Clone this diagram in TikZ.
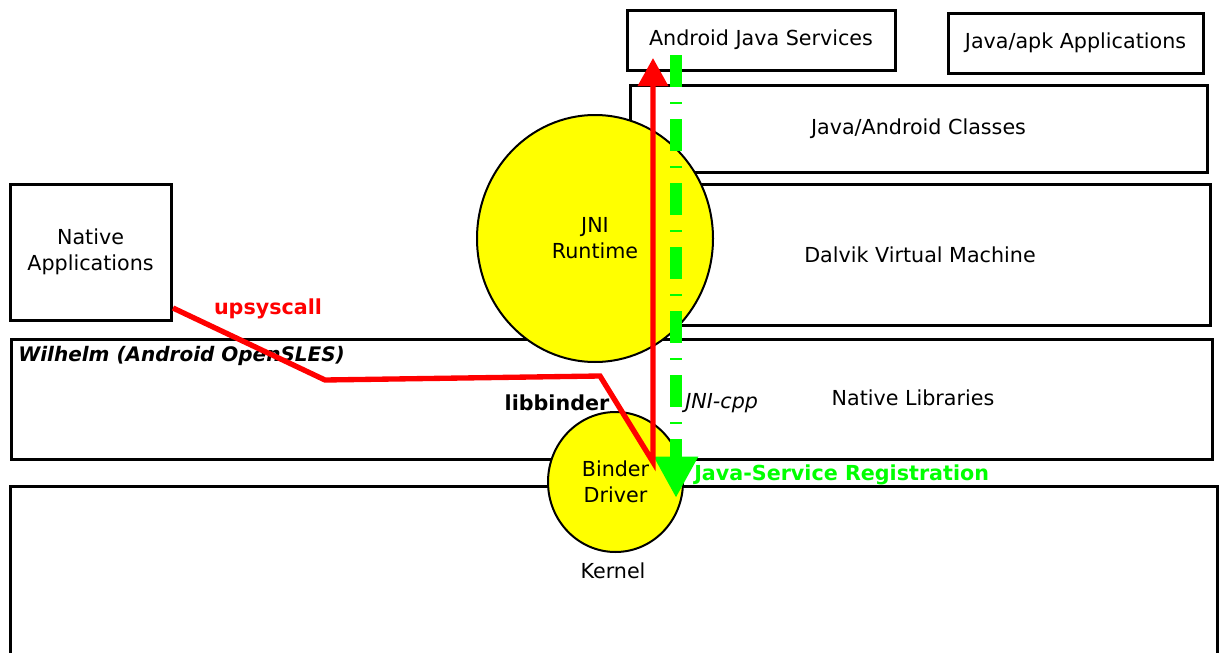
\documentclass[tikz,border=0pt]{standalone}
\usepackage{fontspec}
\setmainfont{DejaVu Sans}
\usetikzlibrary{shapes.geometric,arrows.meta}

\tikzset{
  layer/.style={draw, line width=2.25pt, inner sep=0pt},
  blob/.style={ellipse, draw, line width=1.5pt, fill={rgb,255:red,255;green,255;blue,0}, inner sep=0pt, align=center},
  txt/.style={inner sep=0.75pt, font=\fontsize{15.5}{19.5}\selectfont}
}

\begin{document}
\begin{tikzpicture}[x=0.75pt,y=0.75pt,yscale=-1,xscale=1,every node/.style={font=\fontsize{15.5}{19.5}\selectfont}]
\useasboundingbox (0,0) rectangle (1222,653);
\clip (0,0) rectangle (1222,653);

%Shape: Rectangle [id:jsvc]
\node[layer, minimum width=268*0.75pt, minimum height=60*0.75pt] (jsvc) at (761,40) {Android Java Services};
%Shape: Rectangle [id:japk]
\node[layer, minimum width=255*0.75pt, minimum height=60*0.75pt] (japk) at (1075.5,43) {Java/apk Applications};
%Shape: Rectangle [id:jclass]
\node[layer, minimum width=577*0.75pt, minimum height=87*0.75pt] (jclass) at (918.5,128.5) {Java/Android Classes};
%Shape: Rectangle [id:dalvik]
\node[layer, minimum width=580*0.75pt, minimum height=141*0.75pt] (dalvik) at (920,254.5) {Dalvik Virtual Machine};
%Shape: Rectangle [id:napps]
\node[layer, minimum width=161*0.75pt, minimum height=136*0.75pt, align=center] (napps) at (90.5,252) {Native\\Applications};
%Shape: Rectangle [id:natlib]
\node[layer, minimum width=1201*0.75pt, minimum height=120*0.75pt] (natlib) at (611.5,399) {};
%Shape: Rectangle [id:kernel]
\node[layer, minimum width=1207*0.75pt, minimum height=214*0.75pt] (kernel) at (613.5,593) {};

%Shape: Ellipse [id:jni]
\node[blob, minimum width=236*0.75pt, minimum height=247*0.75pt] (jni) at (595,238.5) {JNI\\Runtime};
%Shape: Ellipse [id:binder]
\node[blob, minimum width=135*0.75pt, minimum height=140*0.75pt] (binder) at (615.5,482) {Binder\\Driver};

% Text Node
\node[txt] (natlbl) at (913,398) {Native Libraries};
% Text Node
\node[txt] (kernlbl) at (613,571) {Kernel};
% Text Node
\node[txt, anchor=west, font=\fontsize{15}{18}\selectfont] (wilhelm) at (17,356) {\bfseries\itshape Wilhelm (Android OpenSLES)};
% Text Node
\node[txt] (libbinder) at (557,403) {\bfseries libbinder};
% Text Node
\node[txt, anchor=west] (jnicpp) at (684,403) {\itshape JNI-cpp};
% Text Node
\node[txt, text={rgb,255:red,255;green,0;blue,0}] (upsys) at (268,309) {\bfseries upsyscall};
% Text Node
\node[txt, anchor=west, text={rgb,255:red,0;green,255;blue,0}] (jreg) at (693,475) {\bfseries Java-Service Registration};

% connector ends
\coordinate (upstart) at (173,308);
\coordinate (bendA) at (325,380);
\coordinate (bendB) at (600,376);
\coordinate (bindjoin) at (653,462);
\coordinate (redtip) at (653,58);
\coordinate (greentop) at (676,55);
\coordinate (greentip) at (676,498);

%Straight Lines [id:regline]
\draw[color={rgb,255:red,0;green,255;blue,0}, line width=9pt, dash pattern=on 24pt off 11.25pt on 1.5pt off 11.25pt, -{Triangle[length=31pt,width=31pt]}] (greentop) -- (greentip);
%Straight Lines [id:upline]
\draw[color={rgb,255:red,255;green,0;blue,0}, line width=4pt, -{Triangle[length=21pt,width=22pt]}] (upstart) -- (bendA) -- (bendB) -- (bindjoin) -- (redtip);

\end{tikzpicture}
\end{document}
